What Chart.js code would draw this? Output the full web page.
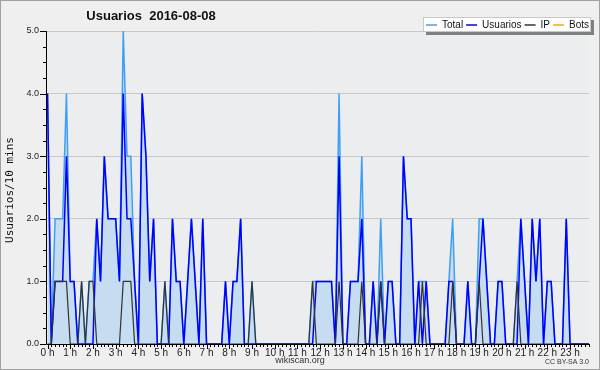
<!DOCTYPE html>
<html>
<head>
<meta charset="utf-8">
<script src="https://cdn.jsdelivr.net/npm/chart.js@4.4.0/dist/chart.umd.min.js"></script>
<style>
  html, body { margin: 0; padding: 0; background: #efefef; }
  canvas { display: block; }
</style>
</head>
<body>
<canvas id="chart" width="600" height="370"></canvas>
<script>
// one value per 10 minutes, 00:00 .. 23:50
const hourLabels = ['0 h', '1 h', '2 h', '3 h', '4 h', '5 h', '6 h', '7 h', '8 h', '9 h', '10 h', '11 h',
  '12 h', '13 h', '14 h', '15 h', '16 h', '17 h', '18 h', '19 h', '20 h', '21 h', '22 h', '23 h'];
const yTicks = [0, 1, 2, 3, 4, 5];

const total = [
  4, 0, 2, 2, 2, 4, 1, 1, 0, 1, 0, 1,
  1, 2, 1, 3, 2, 2, 2, 1, 5, 3, 3, 1,
  0, 4, 3, 1, 2, 0, 0, 1, 0, 2, 1, 1,
  0, 1, 2, 1, 0, 2, 0, 0, 0, 0, 0, 1,
  0, 1, 1, 2, 0, 0, 1, 0, 0, 0, 0, 0,
  0, 0, 0, 0, 0, 0, 0, 0, 0, 0, 1, 1,
  1, 1, 1, 1, 0, 4, 0, 0, 1, 1, 1, 3,
  0, 0, 1, 0, 2, 0, 1, 1, 0, 0, 3, 2,
  2, 0, 1, 1, 1, 0, 0, 0, 0, 0, 1, 2,
  0, 0, 0, 1, 0, 0, 2, 2, 1, 0, 0, 1,
  1, 0, 0, 0, 1, 2, 1, 0, 2, 1, 2, 0,
  1, 1, 0, 0, 0, 2, 0, 0, 0, 0, 0, 0
];
const usuarios = [
  4, 0, 1, 1, 1, 3, 1, 1, 0, 0, 0, 0,
  0, 2, 1, 3, 2, 2, 2, 1, 4, 2, 2, 1,
  0, 4, 3, 1, 2, 0, 0, 0, 0, 2, 1, 1,
  0, 1, 2, 1, 0, 2, 0, 0, 0, 0, 0, 1,
  0, 1, 1, 2, 0, 0, 0, 0, 0, 0, 0, 0,
  0, 0, 0, 0, 0, 0, 0, 0, 0, 0, 0, 1,
  1, 1, 1, 1, 0, 3, 0, 0, 1, 1, 1, 2,
  0, 0, 1, 0, 1, 0, 1, 1, 0, 0, 3, 2,
  2, 0, 1, 0, 1, 0, 0, 0, 0, 0, 1, 1,
  0, 0, 0, 1, 0, 0, 1, 2, 1, 0, 0, 1,
  1, 0, 0, 0, 0, 2, 1, 0, 2, 1, 2, 0,
  1, 1, 0, 0, 0, 2, 0, 0, 0, 0, 0, 0
];
const ip = [
  0, 0, 1, 1, 1, 1, 0, 0, 0, 1, 0, 1,
  1, 0, 0, 0, 0, 0, 0, 0, 1, 1, 1, 0,
  0, 0, 0, 0, 0, 0, 0, 1, 0, 0, 0, 0,
  0, 0, 0, 0, 0, 0, 0, 0, 0, 0, 0, 0,
  0, 0, 0, 0, 0, 0, 1, 0, 0, 0, 0, 0,
  0, 0, 0, 0, 0, 0, 0, 0, 0, 0, 1, 0,
  0, 0, 0, 0, 0, 1, 0, 0, 0, 0, 0, 1,
  0, 0, 0, 0, 1, 0, 0, 0, 0, 0, 0, 0,
  0, 0, 0, 1, 0, 0, 0, 0, 0, 0, 0, 1,
  0, 0, 0, 0, 0, 0, 1, 0, 0, 0, 0, 0,
  0, 0, 0, 0, 1, 0, 0, 0, 0, 0, 0, 0,
  0, 0, 0, 0, 0, 0, 0, 0, 0, 0, 0, 0
];
const bots = [
  0, 0, 0, 0, 0, 0, 0, 0, 0, 0, 0, 0,
  0, 0, 0, 0, 0, 0, 0, 0, 0, 0, 0, 0,
  0, 0, 0, 0, 0, 0, 0, 0, 0, 0, 0, 0,
  0, 0, 0, 0, 0, 0, 0, 0, 0, 0, 0, 0,
  0, 0, 0, 0, 0, 0, 0, 0, 0, 0, 0, 0,
  0, 0, 0, 0, 0, 0, 0, 0, 0, 0, 0, 0,
  0, 0, 0, 0, 0, 0, 0, 0, 0, 0, 0, 0,
  0, 0, 0, 0, 0, 0, 0, 0, 0, 0, 0, 0,
  0, 0, 0, 0, 0, 0, 0, 0, 0, 0, 0, 0,
  0, 0, 0, 0, 0, 0, 0, 0, 0, 0, 0, 0,
  0, 0, 0, 0, 0, 0, 0, 0, 0, 0, 0, 0,
  0, 0, 0, 0, 0, 0, 0, 0, 0, 0, 0, 0
];

const toPoints = arr => arr.map((v, i) => ({ x: i, y: v }));
const FONT = 'Liberation Sans';

// background, axes with ticks, title, legend and footer
const decor = {
  id: 'decor',
  beforeDraw(chart) {
    const { ctx, chartArea: a } = chart;
    ctx.save();
    ctx.fillStyle = '#efefef';
    ctx.fillRect(0, 0, chart.width, chart.height);
    ctx.fillStyle = '#ecedef';
    ctx.fillRect(a.left, a.top, a.right - a.left, a.bottom - a.top);
    ctx.restore();
  },
  afterDatasetsDraw(chart) {
    const { ctx, chartArea: a, scales: { x, y } } = chart;
    ctx.save();
    ctx.strokeStyle = '#000';
    ctx.lineWidth = 1;
    ctx.beginPath();
    ctx.moveTo(a.left + 0.5, a.top);
    ctx.lineTo(a.left + 0.5, a.bottom + 0.5);
    ctx.lineTo(a.right, a.bottom + 0.5);
    // x ticks: one per 10 min, longer every hour
    for (let i = 0; i < total.length; i++) {
      const px = Math.round(x.getPixelForValue(i)) + 0.5;
      ctx.moveTo(px, a.bottom);
      ctx.lineTo(px, a.bottom + (i % 6 === 0 ? 5 : 3));
    }
    // y ticks: every 0.25, longer on whole numbers
    for (let v = 0; v <= 5; v += 0.25) {
      const py = Math.round(y.getPixelForValue(v)) + 0.5;
      ctx.moveTo(a.left, py);
      ctx.lineTo(a.left - (v % 1 === 0 ? 6 : 3), py);
    }
    ctx.stroke();
    ctx.restore();
  },
  afterDraw(chart) {
    const { ctx } = chart;
    ctx.save();
    ctx.fillStyle = '#111';
    ctx.textBaseline = 'middle';

    ctx.font = 'bold 13px "' + FONT + '"';
    ctx.textAlign = 'center';
    ctx.fillText('Usuarios  2016-08-08', 151, 16);

    ctx.save();
    ctx.translate(10, 190);
    ctx.rotate(-Math.PI / 2);
    ctx.font = '11px "DejaVu Sans Mono"';
    ctx.fillText('Usuarios/10 mins', 0, 0);
    ctx.restore();

    ctx.fillStyle = '#333';
    ctx.font = '9px "' + FONT + '"';
    ctx.fillText('wikiscan.org', 300, 361);
    ctx.textAlign = 'right';
    ctx.font = '7px "' + FONT + '"';
    ctx.fillText('CC BY-SA 3.0', 589, 362);

    // legend box with shadow
    const bx = 423, by = 17, bw = 168, bh = 15;
    ctx.fillStyle = '#808080';
    ctx.fillRect(bx + 3, by + 3, bw, bh);
    ctx.fillStyle = '#fff';
    ctx.fillRect(bx, by, bw, bh);
    ctx.strokeStyle = '#c8c8c8';
    ctx.strokeRect(bx + 0.5, by + 0.5, bw - 1, bh - 1);
    ctx.font = '10px "' + FONT + '"';
    ctx.textAlign = 'left';
    let lx = bx + 3;
    const ly = by + bh / 2 + 0.5;
    chart.data.datasets.forEach(ds => {
      ctx.strokeStyle = ds.borderColor;
      ctx.lineWidth = 1.5;
      ctx.beginPath();
      ctx.moveTo(lx, ly);
      ctx.lineTo(lx + 11, ly);
      ctx.stroke();
      ctx.fillStyle = '#111';
      ctx.fillText(ds.label, lx + 16, ly);
      lx += 16 + ctx.measureText(ds.label).width + 3;
    });

    ctx.strokeStyle = '#a0a0a0';
    ctx.lineWidth = 1;
    ctx.strokeRect(0.5, 0.5, chart.width - 1, chart.height - 1);
    ctx.restore();
  }
};

new Chart(document.getElementById('chart'), {
  type: 'line',
  data: {
    datasets: [
      {
        label: 'Total',
        data: toPoints(total),
        borderColor: '#3f9ff5',
        backgroundColor: '#c6dcf0',
        fill: 'origin',
        borderWidth: 1.5,
        order: 3
      },
      {
        label: 'Usuarios',
        data: toPoints(usuarios),
        borderColor: '#0000ff',
        borderWidth: 1.5,
        fill: false,
        order: 1
      },
      {
        label: 'IP',
        data: toPoints(ip),
        borderColor: '#333333',
        borderWidth: 1.2,
        fill: false,
        order: 0
      },
      {
        label: 'Bots',
        data: toPoints(bots),
        borderColor: '#ffa500',
        borderWidth: 1.5,
        fill: false,
        order: 4
      }
    ]
  },
  options: {
    responsive: false,
    animation: false,
    layout: { padding: { left: 0, right: 11, top: 31, bottom: 0 } },
    elements: { point: { radius: 0 }, line: { tension: 0 } },
    plugins: {
      legend: { display: false },
      tooltip: { enabled: false },
      title: { display: false }
    },
    scales: {
      x: {
        type: 'linear',
        min: -0.4,
        max: 143,
        afterFit: s => { s.height = 26; },
        afterBuildTicks: s => { s.ticks = hourLabels.map((_, h) => ({ value: h * 6 })); },
        ticks: {
          autoSkip: false,
          maxRotation: 0,
          padding: 3,
          color: '#222',
          font: { family: FONT, size: 10 },
          callback: v => hourLabels[v / 6]
        },
        grid: { display: false, drawTicks: false },
        border: { display: false }
      },
      y: {
        min: 0,
        max: 5,
        afterFit: s => { s.width = 46; },
        afterBuildTicks: s => { s.ticks = yTicks.map(v => ({ value: v })); },
        ticks: {
          padding: 7,
          color: '#222',
          font: { family: FONT, size: 9 },
          callback: v => v.toFixed(1)
        },
        grid: {
          color: c => (c.tick && c.tick.value > 0 ? '#c8c8c8' : 'rgba(0,0,0,0)'),
          drawTicks: false
        },
        border: { display: false }
      }
    }
  },
  plugins: [decor]
});
</script>
</body>
</html>
